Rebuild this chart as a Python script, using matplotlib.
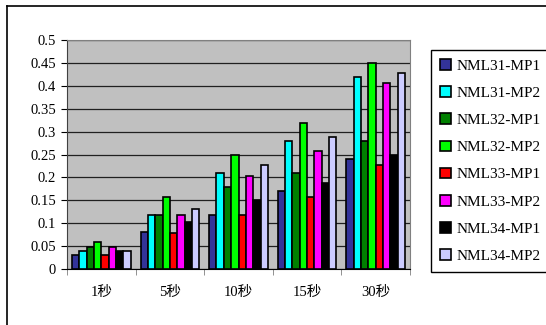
import numpy as np
import matplotlib.pyplot as plt
from matplotlib.lines import Line2D

plt.rcParams['font.family'] = ['Liberation Serif', 'Noto Sans CJK TC']

# categories and series
categories = ["1秒", "5秒", "10秒", "15秒", "30秒"]
series_names = ["NML31-MP1", "NML31-MP2", "NML32-MP1", "NML32-MP2",
                "NML33-MP1", "NML33-MP2", "NML34-MP1", "NML34-MP2"]
nml31_mp1 = [0.03, 0.08, 0.118, 0.17, 0.241]
nml31_mp2 = [0.04, 0.118, 0.209, 0.279, 0.42]
nml32_mp1 = [0.048, 0.118, 0.179, 0.209, 0.279]
nml32_mp2 = [0.06, 0.157, 0.25, 0.319, 0.45]
nml33_mp1 = [0.03, 0.079, 0.118, 0.157, 0.227]
nml33_mp2 = [0.047, 0.118, 0.202, 0.258, 0.407]
nml34_mp1 = [0.04, 0.102, 0.15, 0.188, 0.25]
nml34_mp2 = [0.04, 0.131, 0.227, 0.288, 0.428]
all_series = [nml31_mp1, nml31_mp2, nml32_mp1, nml32_mp2,
              nml33_mp1, nml33_mp2, nml34_mp1, nml34_mp2]
colors = ["#333399", "#00FFFF", "#008000", "#00FF00",
          "#FF0000", "#FF00FF", "#000000", "#CCCCFF"]

fig = plt.figure(figsize=(5.46, 3.25), dpi=100)
ax = fig.add_axes([67/546, 1 - 269/325, 343/546, 229/325])
ax.set_facecolor("#C0C0C0")

x = np.arange(len(categories))
bw = 0.107
for i, (vals, c, name) in enumerate(zip(all_series, colors, series_names)):
    ax.bar(x + (i - 3.5) * bw, vals, bw, color=c, edgecolor="black",
           linewidth=1.2, label=name, zorder=3)

ax.set_xlim(-0.5, len(categories) - 0.5)
ax.set_ylim(0, 0.5)
ax.set_yticks(np.arange(0, 0.51, 0.05))
ax.set_yticklabels(["0", "0.05", "0.1", "0.15", "0.2", "0.25", "0.3",
                    "0.35", "0.4", "0.45", "0.5"])
ax.yaxis.grid(True, color="#202020", linewidth=0.9, zorder=0)
ax.set_xticks(x)
ax.set_xticklabels(categories)
ax.set_xticks(np.arange(-0.5, len(categories)), minor=True)
ax.tick_params(axis="x", which="major", length=0, pad=12, labelsize=10.5)
ax.tick_params(axis="x", which="minor", length=4, direction="out", color="#808080")
ax.tick_params(axis="y", length=4, direction="out", labelsize=10.5, pad=4)
for s in ["top", "right"]:
    ax.spines[s].set_color("#808080")
ax.spines["left"].set_color("#404040")
ax.spines["bottom"].set_color("black")

leg = fig.legend(loc="upper left", bbox_to_anchor=(431/546, 1 - 50/325),
                 fontsize=11, handlelength=0.7, handleheight=0.7,
                 handletextpad=0.4, labelspacing=0.88, borderpad=0.6,
                 borderaxespad=0, fancybox=False, edgecolor="black",
                 framealpha=1)
leg.get_frame().set_linewidth(1.0)

# outer chart frame
fig.add_artist(Line2D([7/546, 7/546], [0, 1 - 6/325], color="black", lw=1.2,
                      transform=fig.transFigure))
fig.add_artist(Line2D([7/546, 1], [1 - 6/325, 1 - 6/325], color="black", lw=1.2,
                      transform=fig.transFigure))

fig.savefig("out.png", dpi=100)
